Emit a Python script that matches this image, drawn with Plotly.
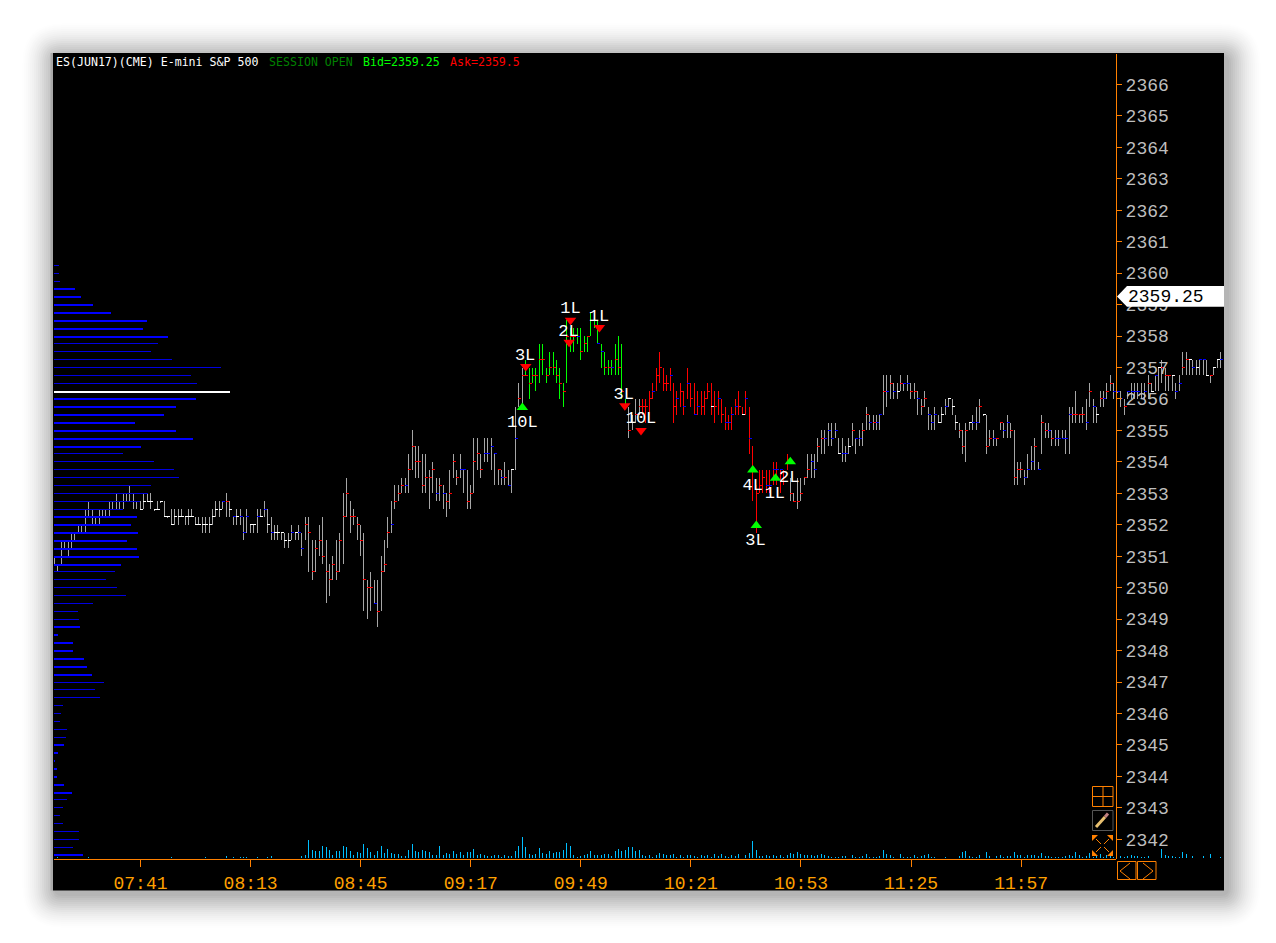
import math
import plotly.graph_objects as go

PRICE_BASE = 2300  # the value lists below are points above this level

highs = [51,50.75,51.5,51.5,51.5,51.75,51.75,52,52,52.5,
52.75,52.5,52.25,52.5,52.5,52.5,52.75,52.75,53,52.75,
53,53,53.25,53,52.75,52.75,53,53,53,52.5,
52.75,52.75,52.75,52.25,52.5,52.5,52.5,52.5,52.25,52.5,
52.5,52.25,52.25,52.25,52.25,52.25,52.5,52.75,52.75,52.75,
53,52.75,52.25,52.5,52.5,52.25,52.5,52,52,52.5,
52.5,52.75,52.5,52.25,52,52,51.75,51.75,51.75,52,
51.75,52,51.75,52.25,52.25,51.5,51.5,52,52.25,51.5,
50.75,51,51.5,51.75,53,53.5,52.75,52.5,52.25,52,
51.75,50.25,50.5,50.25,50.25,51,51.5,52.25,52.75,53.25,
53.25,53.5,53.5,54.25,55,54.5,54.5,54.25,54.25,53.75,
54,53.5,53.5,53.25,53,53.75,54.25,53.75,54.25,53.75,
53.75,53.25,54.75,54.75,54.25,54.75,54.75,54.75,54.25,53.75,
53.75,54,53.75,53.75,55.75,56.5,57,57.25,57,57,
57,57.75,57.75,57,57.5,57.5,57.25,57,56.5,58.5,
58.25,58.25,58.25,58.25,58,58,58.75,58.75,58.5,57.75,
57.5,57.25,57.25,57.75,58,57.75,56,55.75,55.5,56,
56,56,56,56.25,56.5,57,57.5,57,56.75,57,
56.5,56.25,56.5,56.25,57,56.5,56.5,56.25,56.25,56.25,
56.5,56.5,56.25,56.25,56,55.75,55.5,55.75,56,56.25,
55.75,56.25,55.75,54.5,53.25,53.75,53.75,53.75,53.75,54,
54,53.75,53.75,54.25,53.5,53,53.5,53.5,53.5,54.25,
54.25,54.25,54.75,55,55,55.25,55.25,55.25,54.75,54.75,
54.5,54.75,55.25,54.75,55,55.25,55.75,55.5,55.5,55.5,
55.5,56.75,56.75,56.75,56.5,56.5,56.75,56.5,56.75,56.5,
56.5,56.25,56,56.25,55.75,55.5,55.75,55.5,55.75,56,
56,56,55.5,55.25,55,55.25,55.25,55.5,55.75,56,
55.5,55.5,55,55,54.75,55.25,55.25,55.5,55.25,55,
54,54,53.75,54.25,54.5,54.75,54,55.5,55.25,55.25,
55,55,55,55,55,55.75,55.75,56.25,55.5,55.75,
56,56.5,56,55.75,56.25,56.25,56.5,56.75,56.5,56.25,
56.25,56,56.25,56.5,56.5,56.5,56.5,56.5,56.75,56.5,
56.75,57,57.25,57,56.75,56.75,56.5,56.75,57.5,57.5,
57.25,57.25,57.25,57.25,57.25,57.25,56.75,57,57.25,57.5]

lows = [50.75,50.5,50.75,51.25,51,51.25,51.5,51.75,51.75,51.75,
52.25,52,52,52,52.25,52.25,52.25,52.5,52.5,52.5,
52.5,52.75,52.75,52.5,52.5,52.5,52.5,52.75,52.5,52.45,
52.5,52.7,52.25,52.2,52,52,52,52.25,52,52,
52.25,52,52,51.75,51.75,51.75,52,52.25,52.25,52.5,
52.25,52.25,52,52,52,51.5,51.75,51.75,51.75,51.75,
52.25,52.25,51.75,51.5,51.5,51.5,51.5,51.25,51.25,51.5,
51.5,51.5,51,51.5,50.5,50.25,50.5,51,50.75,49.5,
49.75,50.25,50.25,50.5,50.75,52.25,51.75,52,51.5,51,
49.25,49,49.25,49.5,48.75,49.25,50.5,51.25,51.75,52.5,
52.75,53,53,53,53.75,53.5,53.5,53,53,52.5,
53,52.75,52.75,52.5,52.25,52.5,53.5,53.25,53.5,53,
52.5,52.5,53,53.75,53.5,54,54,53.75,53.25,53.25,
53.25,53.25,53.25,53,53.75,55.75,55.75,56.75,56,56.5,
56.25,56.5,56.75,56.5,56.75,56.75,56.5,56,55.75,56.5,
57.5,57.5,57.75,57.25,57.5,57.5,58,58.25,57.75,57,
56.75,56.75,56.75,56.75,56.75,56,55.75,54.75,55,55.25,
55.5,55.5,55.25,55.5,56,56.25,56.5,56.25,56.25,56.25,
55.25,55.5,55.75,55.5,56,55.75,55.5,55.5,55.5,55.5,
56,55.5,55.25,55.5,55.25,55,55,55,55.5,55.5,
55.5,55.5,54.25,52.75,51.75,53,53,53,53,53.25,
53.25,53,53.25,53.75,52.75,52.75,52.5,52.75,53.25,53.5,
53.5,53.5,54,54.25,54.25,54.5,54.5,54.75,54.25,54,
54,54.25,54.5,54.25,54.5,54.5,55,55,55,55,
55,55.5,55.75,56,56,56,56.25,56.25,56.25,56,
56,55.5,55.5,55.75,55,55,55,55.25,55.25,55.5,
55.75,55.5,55,54.75,54.25,54,55,55,55,55.25,
55.45,54.25,54.5,54.5,54.5,55,54.75,54.75,54.75,53.25,
53.25,53.5,53.25,53.5,53.75,53.75,53.75,54.25,54.75,54.75,
54.5,54.5,54.5,54.75,54.25,54.25,55.25,55.25,55.25,55.25,
55,55.75,55.25,55.25,55.75,55.75,56,56.25,56,56.2,
55.75,55.5,56,56,56,56,56,56,56,56.25,
56.25,56.25,56.5,56.25,56.25,56.25,56,56.25,56.75,56.75,
56.75,56.75,56.75,56.75,56.75,56.75,56.5,56.75,57,57]

closes = [50.75,50.75,51,51.25,51.25,51.5,51.5,51.75,51.75,52,
52.5,52.25,52.25,52.25,52.25,52.25,52.5,52.5,52.75,52.75,
52.75,52.75,53,52.75,52.75,52.5,52.75,52.75,52.75,52.5,
52.5,52.75,52.25,52.25,52,52.25,52.25,52.25,52.25,52.25,
52.25,52,52,52,52,52,52.25,52.5,52.5,52.75,
52.75,52.5,52.25,52.25,52.25,51.75,52.25,52,52,52.25,
52.25,52.5,52,51.75,51.75,51.75,51.75,51.5,51.5,51.75,
51.75,51.75,51.25,52,51.75,50.5,51.25,51.5,51,50.5,
50.25,50.75,50.5,51.5,52.25,53,52.25,52.25,52,51.5,
50.25,50,50,49.5,49.25,50.5,50.75,51.75,52,52.75,
53,53.25,53.25,53.75,54.5,54,54,53.25,53.5,53.5,
53.75,53,53.25,53,52.75,53,54,53.5,53.75,53.75,
52.75,53,54,54.25,53.75,54.25,54.25,54.5,54.25,53.75,
53.5,53.5,53.25,53.75,54.75,56,56.75,56.75,56.5,56.75,
56.75,57.25,57.25,56.75,57,57,56.75,56.5,56.25,58,
58,58,58,57.5,57.75,58,58.5,58.5,57.75,57.5,
57,57,57,57.25,57,56.25,55.75,55,55.25,55.5,
55.75,55.75,55.75,56,56.25,56.75,57,56.5,56.5,56.75,
55.75,56,56.25,55.75,56.5,56,55.5,55.75,55.75,56,
56.25,55.75,55.75,56,55.5,55.25,55.25,55.5,55.75,55.75,
55.5,56,54.75,53.75,53,53.25,53.5,53.25,53.25,53.75,
53.75,53.75,53.5,54,53,52.75,52.75,53,53.5,53.75,
54,53.75,54.5,54.75,54.75,55,54.75,55,54.25,54.25,
54.25,54.5,55,54.75,54.75,55,55.5,55.25,55.25,55.25,
55.5,56.25,56.25,56.5,56.25,56.25,56.5,56.5,56.5,56.25,
56.25,56,55.75,56,55.5,55.25,55.5,55.25,55.5,55.75,
56,55.75,55.25,55,54.5,55,55.25,55.25,55.25,55.75,
55.5,54.5,54.75,54.75,54.75,55.25,55,55.25,55,53.5,
53.75,53.75,53.5,53.75,54,54.5,53.75,55.25,55,55,
54.75,54.75,54.75,54.75,54.75,55.5,55.5,55.5,55.5,55.5,
55.25,56.25,55.75,55.5,56,56,56.25,56.5,56.25,56.25,
56,55.75,56.25,56.25,56.25,56.25,56,56.25,56.5,56.25,
56.75,57,57,56.75,56.75,56.75,56.25,56.5,57,57.25,
57.25,57,57,57.25,57.25,56.75,56.75,57,57.25,57.25]

close_colors = list(
"bbbbbbbbbb" "bbbbbbbbbb" "bbbbbwwwww" "wwwwwwwwww" "wwwwwwwwwb"
"rwbwbbbwwb" "wbwbwwwwwb" "wbbrrrrrrr" "rrrrrrrrrr" "rrrbrrrrbr"
"rrbrrrrrrr" "rbrbrrrrbb" "rrrrrbbbbr" "brbwbrrrrr" "rrrrrrrrrr"
"rrbrrrrrbb" "rrbrrrrrrr" "rrrrbrrrrb" "rbrbbrbbrr" "rwrbrbbbbr"
"wbbrrrrbbb" "bbrrrrrrrr" "bbrrbbbbwb" "bwrbbrrbrb" "brbrbwrbbr"
"rbrrbbbwwb" "wwwrrrwbbr" "wrrbrrbbrr" "rrbbbrbrrb" "rbbbbbrrrr"
"brbwrbrrbb" "brbbbbbbrw" "bwrrrwbbrr" "wbwbbwrwwb"
)
CLOSE_COLOR_HEX = {"r": "#FF0000", "b": "#0000FF", "w": "#FFFFFF"}

bar_color_runs = [("#A6A6A6", 137), ("#00FF00", 30), ("#A6A6A6", 4), ("#FF0000", 43), ("#A6A6A6", 126)]

volume_first = {1: 1, 10: 1, 34: 1, 44: 1, 50: 2, 52: 1, 54: 1, 55: 1, 56: 1, 59: 1, 62: 1, 63: 2}
volume_from_72 = [2,3,18,8,7,7,12,11,8,3,7,7,12,11,7,3,6,5,14,10,6,3,7,12,5,9,5,4,4,2,
2,8,14,7,6,8,7,6,3,3,12,3,5,4,7,4,6,3,6,6,9,3,4,3,2,2,3,3,1,3,
2,2,7,12,21,11,4,3,4,10,5,4,7,5,6,6,8,15,12,3,1,2,3,4,7,3,3,3,
4,4,2,7,9,7,8,11,11,7,8,3,2,3,1,3,5,4,3,3,4,1,3,1,3,3,2,1,3,2,3,1,4,2,4,2,1,3,2,4,0,3,5,17,8,
2,2,3,2,3,2,3,1,3,5,4,6,4,3,3,3,2,3,4,3,2,1,1,1,2,2,0,3,1,1,2,4,1,1,1,2,8,4,3,1,0,4,1,1,
1,3,1,2,3,4,1,1,0,0,1,0,0,0,2,6,7,2,1,1,3,0,6,2,0,2,3,1,2,2,6,3,3,1,3,3,3,2,5,2,2,1,1,1,1,2,
3,2,6,3,1,2,5,1,3,4,1,3,4,1,0,2,1,2,3,2,2,1,1,2,0,0,0,9,3,2,2,1,1,6,4,0,2,0,0,2,0,4,0,0,1]

profile_top_price = 2360.25
profile_weight = (
"ttt" "TTTTTTT" "tttttt" "W" "TTTTTTT" "tttttttt" "TTTTTTT" "ttttttt" "TTTTTTT"
"tttttttt" "TTTTTTT" "ttttttt" "T"
)
profile_lengths = [5,5,6,21,27,39,57,93,89,114,104,97,118,167,137,143,176,142,122,110,
81,122,139,87,69,100,120,125,97,94,86,69,83,77,84,73,83,85,67,61,
52,63,72,39,24,25,26,4,19,19,30,33,38,50,41,46,9,7,6,13,
12,10,4,1,3,3,10,18,13,9,6,9,25,25,19,29]

time_ticks = [25,57,89,121,153,185,217,249,281]
time_labels = ["07:41","08:13","08:45","09:17","09:49","10:21","10:53","11:25","11:57"]

down_x = [137,150,149.6,158.4,165.8,170.5]
down_y = [2357.03,2358.5,2357.8,2358.27,2355.78,2355.0]
up_x = [136,203,204,209.6,213.9]
up_y = [2355.73,2353.74,2351.98,2353.48,2354.0]
label_x = [136.8,150,149.4,158.3,165.5,170.5,136,203,203.8,209.4,213.6]
label_y = [2357.37,2358.86,2358.14,2358.62,2356.13,2355.37,2355.24,2353.23,2351.49,2352.98,2353.49]
label_text = ["3L","1L","2L","1L","3L","10L","10L","4L","3L","1L","2L"]

# ---------- frame geometry (page pixels; the page has an 8px body margin)
L, R, T, B = 54, 1224, 54, 890
AXIS_Y = 859
def px(x): return (x - L) / (R - L)
def py(y): return (B - y) / (B - T)

N = len(highs)
PX_PER_BAR = 3.44
ONE_PX = 1 / PX_PER_BAR
price_per_px = 1 / 31.45
ORIGIN_PX = 54.5
xrange_ = [(L - ORIGIN_PX) / PX_PER_BAR, (R - ORIGIN_PX) / PX_PER_BAR]
xi = list(range(N))

# the original draws on whole screen pixels, so marks are snapped to the same pixel grid
def bar_col(i): return math.floor(54.3 + PX_PER_BAR * i)
def col_x(col_center): return (col_center - ORIGIN_PX) / PX_PER_BAR
def price_to_y(p): return 493.3 - (p - 2353) / price_per_px
def y_to_price(y): return 2353 + (493.3 - y) * price_per_px
def snap_edge(p): return y_to_price(round(price_to_y(p)))
def row_of(p): return math.floor(price_to_y(p))

bar_colors = []
for c, n in bar_color_runs:
    bar_colors += [c] * n

fig = go.Figure()

for c, _ in bar_color_runs[:2] + bar_color_runs[3:4]:
    idx = [i for i in xi if bar_colors[i] == c]
    b = [snap_edge(PRICE_BASE + lows[i]) for i in idx]
    t = [snap_edge(PRICE_BASE + highs[i]) for i in idx]
    fig.add_trace(go.Bar(
        x=[col_x(bar_col(i) + 0.5) for i in idx], base=b,
        y=[tv - bv for tv, bv in zip(t, b)],
        width=ONE_PX, marker=dict(color=c, line=dict(width=0)),
        hoverinfo="skip", showlegend=False))

for k, hexc in CLOSE_COLOR_HEX.items():
    idx = [i for i in xi if close_colors[i] == k]
    fig.add_trace(go.Bar(
        x=[col_x(bar_col(i) + 1.5) for i in idx],
        base=[y_to_price(row_of(PRICE_BASE + closes[i]) + 1) for i in idx],
        y=[price_per_px] * len(idx),
        width=3 * ONE_PX, marker=dict(color=hexc, line=dict(width=0)),
        hoverinfo="skip", showlegend=False))

fig.add_trace(go.Scatter(x=down_x, y=down_y, mode="markers", showlegend=False, hoverinfo="skip",
    marker=dict(symbol="triangle-down", size=10, color="#FF0000", line=dict(width=0))))
fig.add_trace(go.Scatter(x=up_x, y=up_y, mode="markers", showlegend=False, hoverinfo="skip",
    marker=dict(symbol="triangle-up", size=10, color="#00FF00", line=dict(width=0))))
fig.add_trace(go.Scatter(x=label_x, y=label_y, text=label_text, mode="text", showlegend=False, hoverinfo="skip",
    textposition="middle center", textfont=dict(family="Liberation Mono", size=17, color="#FFFFFF")))

volumes = [volume_first.get(i, 0) for i in range(72)] + volume_from_72
fig.add_trace(go.Bar(x=[col_x(bar_col(i) + 0.5) for i in range(len(volumes))], y=volumes, yaxis="y3", width=ONE_PX,
    marker=dict(color="#00BFFF", line=dict(width=0)), hoverinfo="skip", showlegend=False))

prices = [profile_top_price - 0.25 * i for i in range(len(profile_lengths))]
for flag, color, h in (("t", "#0000E0", 1), ("T", "#0000FF", 2), ("W", "#FFFFFF", 2)):
    idx = [i for i, f in enumerate(profile_weight) if f == flag]
    fig.add_trace(go.Bar(x=[profile_lengths[i] for i in idx],
        y=[y_to_price(row_of(prices[i]) + h / 2) for i in idx],
        orientation="h", xaxis="x2", width=h * price_per_px,
        marker=dict(color=color, line=dict(width=0)), hoverinfo="skip", showlegend=False))

shapes = []
def rounded(x0, y0, x1, y1, r):
    X0, X1, Y0, Y1 = px(x0), px(x1), py(y0), py(y1)
    rx, ry = r / (R - L), r / (B - T)
    return (f"M {X0+rx},{Y0} L {X1-rx},{Y0} Q {X1},{Y0} {X1},{Y0-ry} L {X1},{Y1+ry} "
            f"Q {X1},{Y1} {X1-rx},{Y1} L {X0+rx},{Y1} Q {X0},{Y1} {X0},{Y1+ry} L {X0},{Y0-ry} "
            f"Q {X0},{Y0} {X0+rx},{Y0} Z")
SHADOW_R = 34
for e in range(SHADOW_R, 0, -2):
    fade = 1 - e / (SHADOW_R + 1)
    shapes.append(dict(type="path", xref="paper", yref="paper", layer="below",
        path=rounded(53 - e + 3, 53 - e + 4, 1224 + e + 3, 890 + e + 4, e + 6),
        fillcolor="#000000", opacity=round(0.03 * fade + 0.004, 4), line=dict(width=0)))
def rect(x0, y0, x1, y1, fill=None, line=None, lw=1, layer="above"):
    d = dict(type="rect", xref="paper", yref="paper", layer=layer,
             x0=px(x0), x1=px(x1), y0=py(y0), y1=py(y1))
    d["fillcolor"] = fill if fill else "rgba(0,0,0,0)"
    d["line"] = dict(color=line, width=lw) if line else dict(width=0)
    return d
def seg(x0, y0, x1, y1, color, w=1):
    return dict(type="line", xref="paper", yref="paper", x0=px(x0), x1=px(x1), y0=py(y0), y1=py(y1),
                line=dict(color=color, width=w))
def poly(points, fill):
    s = "M " + " L ".join(f"{px(x)},{py(y)}" for x, y in points) + " Z"
    return dict(type="path", xref="paper", yref="paper", path=s, fillcolor=fill, line=dict(width=0))

shapes.append(rect(50.5, 53, 53, 890.5, fill="#A8A8A8", layer="below"))
shapes.append(rect(53, 53, 1224, 890.5, fill="#000000", layer="below"))
ORANGE = "#FF8000"
shapes.append(seg(54, AXIS_Y + 0.5, 1116, AXIS_Y + 0.5, ORANGE))
shapes.append(poly([(1117, 296.5), (1127, 286), (1224, 286), (1224, 306.7), (1127, 306.7)], "#FFFFFF"))
shapes.append(rect(1092.5, 786.5, 1113, 806.5, line=ORANGE))
shapes.append(seg(1092.5, 796.5, 1113, 796.5, ORANGE))
shapes.append(seg(1103, 786.5, 1103, 806.5, ORANGE))
shapes.append(rect(1092.5, 810.5, 1113, 830.5, line="#555555"))
shapes.append(seg(1096, 827, 1105, 817, "#E8C070", 3))
shapes.append(seg(1105, 817, 1108, 813.5, "#C08080", 3))
for (cx, cy, sx, sy) in ((1092, 835, 1, 1), (1113, 835, -1, 1), (1092, 856, 1, -1), (1113, 856, -1, -1)):
    shapes.append(poly([(cx, cy), (cx + 6 * sx, cy), (cx, cy + 6 * sy)], ORANGE))
    shapes.append(seg(cx + 4 * sx, cy + 4 * sy, cx + 9 * sx, cy + 9 * sy, ORANGE))
shapes.append(rect(1117.5, 861.5, 1136, 879.5, line=ORANGE))
shapes.append(rect(1137.5, 861.5, 1156, 879.5, line=ORANGE))
shapes.append(seg(1130, 863, 1120, 871, ORANGE))
shapes.append(seg(1120, 871, 1130, 879, ORANGE))
shapes.append(seg(1143, 863, 1153, 871, ORANGE))
shapes.append(seg(1153, 871, 1143, 879, ORANGE))

def note(text, x, y, color, size, family="DejaVu Sans Mono", anchor="left"):
    return dict(text=text, x=px(x), y=py(y), xref="paper", yref="paper", showarrow=False,
                xanchor=anchor, yanchor="middle", align="left", borderpad=0,
                font=dict(family=family, size=size, color=color))
annotations = [
    note("ES(JUN17)(CME) E-mini S&P 500", 54.5, 62.5, "#FFFFFF", 11.6),
    note("SESSION OPEN", 267.5, 62.5, "#008000", 11.6),
    note("Bid=2359.25", 362, 62.5, "#00FF00", 11.6),
    note("Ask=2359.5", 448.5, 62.5, "#FF0000", 11.6),
    note("2359.25", 1127, 296.5, "#000000", 18, family="Liberation Mono"),
]

dom_bottom = py(AXIS_Y)
p_low = y_to_price(AXIS_Y)
p_high = y_to_price(T)

fig.update_layout(
    width=1260, height=927, autosize=False,
    margin=dict(l=L - 8, r=1260 - (R - 8), t=T - 8, b=927 - (B - 8), pad=0),
    paper_bgcolor="#FFFFFF", plot_bgcolor="rgba(0,0,0,0)",
    barmode="overlay", bargap=0, showlegend=False,
    shapes=shapes, annotations=annotations,
    xaxis=dict(domain=[0, 1], range=xrange_, showgrid=False, zeroline=False, showline=False,
               tickmode="array", tickvals=time_ticks, ticktext=time_labels,
               ticks="outside", ticklen=7, tickwidth=1, tickcolor=ORANGE,
               tickfont=dict(family="Liberation Mono", size=18, color="#FFA000"), anchor="y"),
    yaxis=dict(domain=[dom_bottom, 1], range=[p_low, p_high], showgrid=False, zeroline=False,
               showline=True, linecolor=ORANGE, linewidth=1,
               anchor="free", position=px(1116), side="right",
               tickmode="linear", tick0=2342, dtick=1, tickformat="d",
               ticks="outside", ticklen=5, tickwidth=1, tickcolor=ORANGE,
               tickfont=dict(family="Liberation Mono", size=18, color="#BEBEBE")),
    yaxis3=dict(domain=[dom_bottom, 1], range=[-1, AXIS_Y - T - 1], overlaying="y", visible=False,
                anchor="x", fixedrange=True),
    xaxis2=dict(domain=[0, 1], range=[0, R - L], overlaying="x", visible=False, anchor="y"),
)

fig.write_html("out.html")
